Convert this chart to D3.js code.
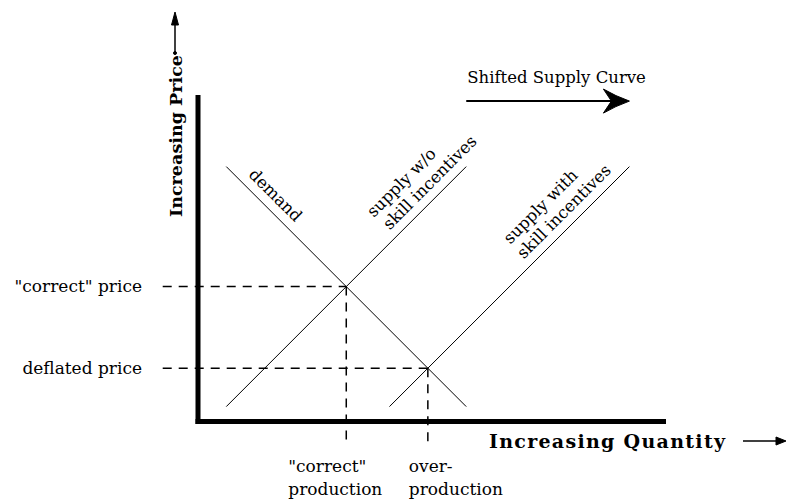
<!DOCTYPE html>
<html>
<head>
<meta charset="utf-8">
<script src="https://cdn.jsdelivr.net/npm/d3@7"></script>
<style>
  body { margin: 0; background: #fff; }
  text { font-family: "DejaVu Serif", serif; fill: #000; }
</style>
</head>
<body>
<svg id="chart"></svg>
<script>
// Curves in chart units (quantity, price)
const curveNames = ["demand", "supplyWithout", "supplyWith"]
const curveStarts = [[1.2, 10.6], [1.2, 0.6], [8.0, 0.6]]
const curveEnds = [[11.2, 0.6], [11.2, 10.6], [18.0, 10.6]]
const curveLabels = [["demand"], ["supply w/o", "skill incentives"], ["supply with", "skill incentives"]]

// Guide labels for the two equilibria
const priceLabels = ['"correct" price', "deflated price"]
const quantityLabels = [['"correct"', "production"], ["over-", "production"]]

// Axis extents and annotations
const quantityMax = 19.4
const priceMax = 13.5
const axisTitles = ["Increasing Quantity", "Increasing Price"]
const shiftLabel = "Shifted Supply Curve"

const width = 786
const height = 504

const svg = d3.select("#chart")
  .attr("width", width)
  .attr("height", height)

svg.append("rect")
  .attr("width", width)
  .attr("height", height)
  .attr("fill", "#fff")

// 24px per unit on both axes, so the curves run at 45 degrees
const x = d3.scaleLinear()
  .domain([0, quantityMax])
  .range([197.5, 663])

const y = d3.scaleLinear()
  .domain([0, priceMax])
  .range([421, 97])

// Crossing point of two straight curves
const intersect = (i, j) => {
  const [[x1, y1], [x2, y2]] = [curveStarts[i], curveEnds[i]]
  const [[x3, y3], [x4, y4]] = [curveStarts[j], curveEnds[j]]
  const d = (x1 - x2) * (y3 - y4) - (y1 - y2) * (x3 - x4)
  const t = ((x1 - x3) * (y3 - y4) - (y1 - y3) * (x3 - x4)) / d
  return [x1 + t * (x2 - x1), y1 + t * (y2 - y1)]
}

const equilibria = [intersect(0, 1), intersect(0, 2)]

// Dashed guides (under the axes)
const guides = svg.append("g")
  .attr("stroke", "#000")
  .attr("stroke-width", 1.5)
  .attr("stroke-dasharray", "9,7")

guides.selectAll(".h")
  .data(equilibria)
  .join("line")
  .attr("x1", x(-1.45))
  .attr("x2", d => x(d[0]))
  .attr("y1", d => y(d[1]))
  .attr("y2", d => y(d[1]))

guides.selectAll(".v")
  .data(equilibria)
  .join("line")
  .attr("x1", d => x(d[0]))
  .attr("x2", d => x(d[0]))
  .attr("y1", d => y(d[1]))
  .attr("y2", y(-0.85))

// Axes, drawn as heavy bars without ticks
svg.append("g")
  .attr("transform", `translate(0, ${y(0)})`)
  .call(d3.axisBottom(x).tickValues([]).tickSizeOuter(0))
  .call(g => g.select(".domain")
    .attr("stroke-width", 5)
    .attr("stroke-linecap", "square"))

svg.append("g")
  .attr("transform", `translate(${x(0)}, 0)`)
  .call(d3.axisLeft(y).tickValues([]).tickSizeOuter(0))
  .call(g => g.select(".domain")
    .attr("stroke-width", 5)
    .attr("stroke-linecap", "square"))

// Demand and supply curves
svg.append("g")
  .selectAll("line")
  .data(curveNames)
  .join("line")
  .attr("x1", (d, i) => x(curveStarts[i][0]))
  .attr("y1", (d, i) => y(curveStarts[i][1]))
  .attr("x2", (d, i) => x(curveEnds[i][0]))
  .attr("y2", (d, i) => y(curveEnds[i][1]))
  .attr("stroke", "#000")
  .attr("stroke-width", 1)

// Label placement along each curve: distance from the top end, offset above the curve
const labelPlacement = [
  [[55, -9]],
  [[-57, -29], [-37, -9]],
  [[-91, -29], [-78, -9]]
]

curveNames.forEach((name, i) => {
  const sx = x(curveStarts[i][0]), sy = y(curveStarts[i][1])
  const ex = x(curveEnds[i][0]), ey = y(curveEnds[i][1])
  const angle = Math.atan2(ey - sy, ex - sx) * 180 / Math.PI
  const [tx, ty] = sy < ey ? [sx, sy] : [ex, ey]
  const g = svg.append("g")
    .attr("transform", `translate(${tx}, ${ty}) rotate(${angle})`)
  g.selectAll("text")
    .data(curveLabels[i])
    .join("text")
    .attr("x", (d, k) => labelPlacement[i][k][0])
    .attr("y", (d, k) => labelPlacement[i][k][1])
    .attr("text-anchor", "middle")
    .attr("font-size", 16.5)
    .text(d => d)
})

// Price labels on the left
svg.append("g")
  .selectAll("text")
  .data(priceLabels)
  .join("text")
  .attr("x", 142)
  .attr("y", (d, i) => y(equilibria[i][1]))
  .attr("dy", "0.32em")
  .attr("text-anchor", "end")
  .attr("font-size", 17)
  .text(d => d)

// Quantity labels under the axis
const qOffsets = [-58, -19]
quantityLabels.forEach((lines, i) => {
  svg.append("g")
    .selectAll("text")
    .data(lines)
    .join("text")
    .attr("x", x(equilibria[i][0]) + qOffsets[i])
    .attr("y", (d, k) => 472 + k * 23)
    .attr("font-size", 17)
    .text(d => d)
})

// Axis titles with arrows
svg.append("text")
  .attr("x", 489)
  .attr("y", 448)
  .attr("font-size", 19)
  .attr("font-weight", "bold")
  .attr("textLength", 236)
  .attr("lengthAdjust", "spacing")
  .text(axisTitles[0])

svg.append("text")
  .attr("transform", "translate(182, 217) rotate(-90)")
  .attr("font-size", 17.5)
  .attr("font-weight", "bold")
  .attr("textLength", 162)
  .attr("lengthAdjust", "spacing")
  .text(axisTitles[1])

const arrows = svg.append("g")
  .attr("stroke", "#000")
  .attr("fill", "#000")

// Quantity arrow
arrows.append("line")
  .attr("x1", 743).attr("y1", 441)
  .attr("x2", 778).attr("y2", 441)
  .attr("stroke-width", 1.5)
arrows.append("path")
  .attr("d", "M786,441 L776,437 L776,445 Z")
  .attr("stroke-width", 1)

// Price arrow
arrows.append("line")
  .attr("x1", 175).attr("y1", 53)
  .attr("x2", 175).attr("y2", 22)
  .attr("stroke-width", 1.5)
arrows.append("path")
  .attr("d", "M175,12 L171.5,25 L178.5,25 Z")
  .attr("stroke-width", 1)
arrows.append("circle")
  .attr("cx", 175).attr("cy", 53).attr("r", 1.5)

// Shift annotation: from the old supply top to the new one
const shiftY = y(13.33)
svg.append("text")
  .attr("x", x(curveEnds[1][0]) + 1)
  .attr("y", y(14.08))
  .attr("font-size", 16.5)
  .text(shiftLabel)

const tipX = x(curveEnds[2][0])
arrows.append("line")
  .attr("x1", x(curveEnds[1][0])).attr("y1", shiftY)
  .attr("x2", tipX - 8).attr("y2", shiftY)
  .attr("stroke-width", 2)
arrows.append("path")
  .attr("d", `M${tipX},${shiftY} Q${tipX - 14},${shiftY - 5} ${tipX - 26},${shiftY - 12}
    L${tipX - 18},${shiftY} L${tipX - 26},${shiftY + 12} Q${tipX - 14},${shiftY + 5} ${tipX},${shiftY} Z`)
  .attr("stroke-width", 1)
</script>
</body>
</html>
